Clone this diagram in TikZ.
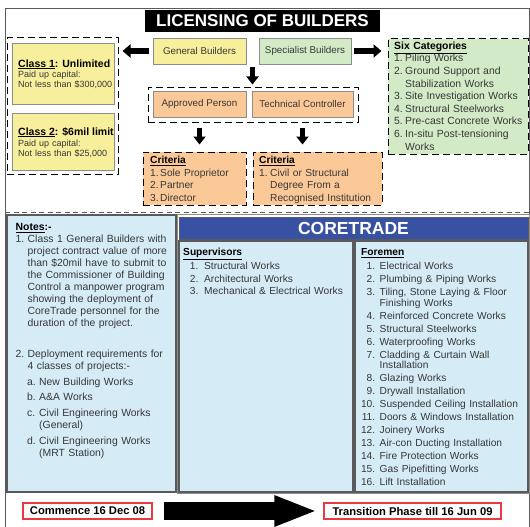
\documentclass[tikz,border=0pt]{standalone}
\usepackage{fontspec}
\setmainfont{Liberation Sans}
\usetikzlibrary{arrows.meta,calc}
\definecolor{yfill}{RGB}{247,239,155}
\definecolor{gfill}{RGB}{211,234,199}
\definecolor{ofill}{RGB}{251,201,152}
\definecolor{bfill}{RGB}{213,236,246}
\definecolor{hblue}{RGB}{56,81,163}
\definecolor{redline}{RGB}{232,58,64}
\definecolor{bordergray}{RGB}{140,140,140}
\definecolor{darkline}{RGB}{90,90,90}
\definecolor{txtgray}{RGB}{55,55,55}
\newcommand\fnum[1]{\makebox[14pt][r]{#1}\hspace{4.5pt}}
\newcommand\fcont{\makebox[18.5pt]{}}
\newcommand\snum[1]{\makebox[15.3pt][r]{#1}\hspace{5.7pt}}
\tikzset{
  solidbox/.style={draw=bordergray, line width=0.9pt, inner sep=0pt, text=txtgray,
    font=\fontsize{9.8}{11}\selectfont},
  ybox/.style={solidbox, fill=yfill},
  gbox/.style={solidbox, fill=gfill},
  obox/.style={solidbox, fill=ofill},
  dashbox/.style={draw=black, line width=1pt, dash pattern=on 7pt off 4pt, inner sep=0pt},
  bluebox/.style={draw=darkline, line width=1.1pt, fill=bfill, inner sep=0pt},
  redbox/.style={draw=redline, line width=1.1pt, fill=white, inner sep=0pt,
    font=\fontsize{11.2}{13}\selectfont\bfseries, text=black},
  txt/.style={anchor=base west, inner sep=0pt, align=left, text=txtgray},
  blockarrow/.style n args={3}{draw=black, line width=#1,
    -{Triangle[width=#2, length=#3]}},
}
\begin{document}
\begin{tikzpicture}[x=1pt,y=-1pt]
\useasboundingbox (0,0) rectangle (530,527);
% outer frame
\draw[draw=darkline, line width=0.8pt] (5,8) rectangle (529.5,530);
% title
\node[fill=black, text=white, inner sep=0pt, minimum width=235pt, minimum height=22pt,
  font=\fontsize{17}{20}\selectfont\bfseries] (title) at (262.5,21) {LICENSING OF BUILDERS};
% top boxes
\node[ybox, minimum width=93pt, minimum height=26pt] (gb) at (199.5,51) {General Builders};
\node[gbox, minimum width=92pt, minimum height=26pt] (sb) at (305,51) {Specialist Builders};
% class boxes
\node[dashbox, minimum width=111pt, minimum height=136pt] (classbox) at (62.5,106) {};
\node[ybox, minimum width=102pt, minimum height=61pt] (class1) at (63,73.5) {};
\node[ybox, minimum width=102pt, minimum height=57pt] (class2) at (63,141.5) {};
\node[txt, text=black, font=\fontsize{10.5}{12}\selectfont\bfseries] (c1h) at (18,67)
  {\underline{Class 1}: Unlimited};
\node[txt, text width=95pt, font=\fontsize{9}{10.5}\selectfont] (c1b) at (18,77.4)
  {Paid up capital:\\Not less than \$300,000};
\node[txt, text=black, font=\fontsize{10.5}{12}\selectfont\bfseries] (c2h) at (18,135)
  {\underline{Class 2}: \$6mil limit};
\node[txt, text width=95pt, font=\fontsize{9}{10.5}\selectfont] (c2b) at (18,146.3)
  {Paid up capital:\\Not less than \$25,000};
% six categories
\node[dashbox, fill=gfill, minimum width=140pt, minimum height=115pt] (six) at (458,96.5) {};
\node[txt, text width=132pt, font=\fontsize{10.4}{12.6}\selectfont] (sixt) at (394,49.4)
  {\textbf{\color{black}\underline{Six Categories}}\\
   \makebox[11pt][l]{1.}Piling Works\\
   \makebox[11pt][l]{2.}Ground Support and\\
   \makebox[11pt]{}Stabilization Works\\
   \makebox[11pt][l]{3.}Site Investigation Works\\
   \makebox[11pt][l]{4.}Structural Steelworks\\
   \makebox[11pt][l]{5.}Pre-cast Concrete Works\\
   \makebox[11pt][l]{6.}In-situ Post-tensioning\\
   \makebox[11pt]{}Works};
% approved / technical
\node[dashbox, minimum width=210pt, minimum height=35pt] (apbox) at (253,104.5) {};
\node[obox, minimum width=93pt, minimum height=26pt] (ap) at (199.5,104) {Approved Person};
\node[obox, minimum width=101pt, minimum height=26pt] (tc) at (302.5,104) {Technical Controller};
% criteria
\node[dashbox, fill=ofill, minimum width=103pt, minimum height=53pt] (critL) at (194.5,178.5) {};
\node[dashbox, fill=ofill, minimum width=129pt, minimum height=53pt] (critR) at (317.5,178.5) {};
\node[txt, text width=95pt, font=\fontsize{10.2}{12.8}\selectfont] (critLt) at (150,163.3)
  {\textbf{\color{black}\underline{Criteria}}\\
   \makebox[10pt][l]{1.}Sole Proprietor\\
   \makebox[10pt][l]{2.}Partner\\
   \makebox[10pt][l]{3.}Director};
\node[txt, text width=122pt, font=\fontsize{10.2}{12.8}\selectfont] (critRt) at (259,163.3)
  {\textbf{\color{black}\underline{Criteria}}\\
   \makebox[11pt][l]{1.}Civil or Structural\\
   \makebox[11pt]{}Degree From a\\
   \makebox[11pt]{}Recognised Institution};
% arrows top
\draw[blockarrow={6pt}{13pt}{8pt}, shorten <=4pt, shorten >=4pt] (gb.west) -- (gb.west -| classbox.east);
\draw[blockarrow={6pt}{13pt}{8pt}, shorten <=3pt, shorten >=6pt] (sb.east) -- (sb.east -| six.west);
\coordinate (gbsb) at ($(gb.south east)!0.5!(sb.south west)$);
\draw[blockarrow={5pt}{12pt}{8pt}, shorten <=3pt, shorten >=2pt] (gbsb) -- (gbsb |- apbox.north);
\draw[blockarrow={5pt}{12pt}{8pt}, shorten <=5pt, shorten >=7pt] (ap.south |- apbox.south) -- (ap.south |- critL.north);
\draw[blockarrow={5pt}{12pt}{8pt}, shorten <=5pt, shorten >=7pt] (tc.south |- apbox.south) -- (tc.south |- critR.north);
% separator
\coordinate (sepL) at (5,212);
\coordinate (sepR) at (529.5,212);
\draw[draw=darkline, line width=0.9pt, dash pattern=on 5pt off 3.5pt] (sepL) -- (sepR);
% notes
\node[bluebox, minimum width=169pt, minimum height=277pt] (notes) at (91.5,353.5) {};
\node[txt, text width=160pt, font=\fontsize{10.4}{12}\selectfont] (notest) at (15.5,230.6)
  {\textbf{\color{black}\underline{Notes}:-}\\
   \makebox[12pt][l]{1.}\makebox[138pt][s]{Class 1 General Builders with}\\
   \makebox[12pt]{}\makebox[138pt][s]{project contract value of more}\\
   \makebox[12pt]{}\makebox[138pt][s]{than \$20mil have to submit to}\\
   \makebox[12pt]{}\makebox[138pt][s]{the Commissioner of Building}\\
   \makebox[12pt]{}\makebox[138pt][s]{Control a manpower program}\\
   \makebox[12pt]{}\makebox[138pt][s]{showing the deployment of}\\
   \makebox[12pt]{}\makebox[138pt][s]{CoreTrade personnel for the}\\
   \makebox[12pt]{}duration of the project.\\[19pt]
   \makebox[12pt][l]{2.}\makebox[138pt][s]{Deployment requirements for}\\
   \makebox[12pt]{}4 classes of projects:-\\[3.5pt]
   \makebox[11.5pt]{}\makebox[12pt][l]{a.}New Building Works\\[3.5pt]
   \makebox[11.5pt]{}\makebox[12pt][l]{b.}A\&A Works\\[4pt]
   \makebox[11.5pt]{}\makebox[12pt][l]{c.}Civil Engineering Works\\
   \makebox[23.5pt]{}(General)\\[4pt]
   \makebox[11.5pt]{}\makebox[12pt][l]{d.}Civil Engineering Works\\
   \makebox[23.5pt]{}(MRT Station)};
% coretrade
\node[draw=bordergray, line width=1pt, inner sep=0pt, minimum width=352pt, minimum height=279pt] (ctframe) at (353.5,353.75) {};
\node[draw=darkline, line width=1pt, fill=hblue, text=white, inner sep=0pt,
  minimum width=349pt, minimum height=22pt, font=\fontsize{17.5}{20}\selectfont\bfseries]
  (cthead) at (353.5,228) {CORETRADE};
\node[bluebox, minimum width=174pt, minimum height=251pt] (sup) at (266,366.5) {};
\node[bluebox, minimum width=173pt, minimum height=251pt] (fore) at (441.5,366.5) {};
\node[txt, text width=165pt, font=\fontsize{10.2}{12.5}\selectfont] (supt) at (183,255.6)
  {\textbf{\color{black}\underline{Supervisors}}\\[1.5pt]
   \snum{1.}Structural Works\\
   \snum{2.}Architectural Works\\
   \snum{3.}Mechanical \& Electrical Works};
\node[txt, text width=165pt, font=\fontsize{10.2}{10.5}\selectfont] (foret) at (361,255.6)
  {\textbf{\color{black}\underline{Foremen}}\\[3.5pt]
   \fnum{1.}Electrical Works\\[2pt]
   \fnum{2.}Plumbing \& Piping Works\\[3pt]
   \fnum{3.}Tiling, Stone Laying \& Floor\\
   \fcont Finishing Works\\[2.5pt]
   \fnum{4.}Reinforced Concrete Works\\[2.5pt]
   \fnum{5.}Structural Steelworks\\[2.5pt]
   \fnum{6.}Waterproofing Works\\[2.5pt]
   \fnum{7.}Cladding \& Curtain Wall\\
   \fcont Installation\\[2.5pt]
   \fnum{8.}Glazing Works\\[2.5pt]
   \fnum{9.}Drywall Installation\\[2.5pt]
   \fnum{10.}Suspended Ceiling Installation\\[2.5pt]
   \fnum{11.}Doors \& Windows Installation\\[2.5pt]
   \fnum{12.}Joinery Works\\[2.5pt]
   \fnum{13.}Air-con Ducting Installation\\[2.5pt]
   \fnum{14.}Fire Protection Works\\[2.5pt]
   \fnum{15.}Gas Pipefitting Works\\[2.5pt]
   \fnum{16.}Lift Installation};
% bottom timeline
\node[redbox, minimum width=129pt, minimum height=16pt] (commence) at (87.5,511) {Commence 16 Dec 08};
\node[redbox, minimum width=177pt, minimum height=16pt] (trans) at (412.5,511) {Transition Phase till 16 Jun 09};
\draw[blockarrow={18pt}{28pt}{43pt}, shorten <=11pt, shorten >=6pt] (commence.east) -- (trans.west);
\end{tikzpicture}
\end{document}
